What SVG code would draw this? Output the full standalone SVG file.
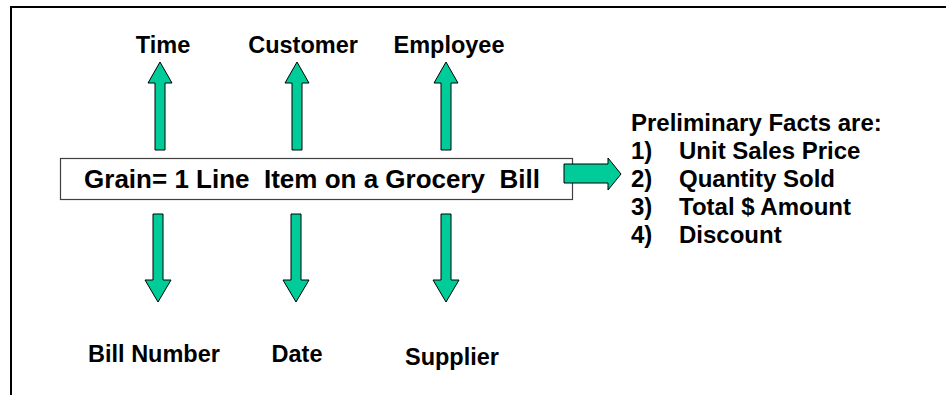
<svg xmlns="http://www.w3.org/2000/svg" width="947" height="395" viewBox="0 0 947 395">
<style>
.lbl{font-family:"Liberation Sans",Arial,sans-serif;font-weight:bold;font-size:23.5px;fill:#000}
.fact{font-family:"Liberation Sans",Arial,sans-serif;font-weight:bold;font-size:24px;fill:#000}
.arr{fill:#00CC99;stroke:#000;stroke-width:1}
</style>
<rect width="947" height="395" fill="#fff"/>
<g id="frame">
<line x1="10" y1="7" x2="946" y2="7" stroke="#000" stroke-width="2"/>
<line x1="11" y1="6" x2="11" y2="395" stroke="#000" stroke-width="2"/>
</g>
<g id="grain">
<rect x="60.5" y="158.5" width="512" height="41" fill="#fff" stroke="#404040" stroke-width="1.2"/>
<text x="312" y="188" text-anchor="middle" class="lbl" style="font-size:26px;white-space:pre" xml:space="preserve">Grain= 1 Line  Item on a Grocery  Bill</text>
</g>
<g id="connectors">
<path class="arr" d="M155,150 V83 H148 L160,62 L172,83 H165 V150 Z"/>
<path class="arr" d="M292,150 V83 H285 L297,62 L309,83 H302 V150 Z"/>
<path class="arr" d="M441,150 V83 H434 L446,62 L458,83 H451 V150 Z"/>
<path class="arr" d="M153,214 V280 H145 L158,302 L171,280 H163 V214 Z"/>
<path class="arr" d="M291,214 V280 H283 L296,302 L309,280 H301 V214 Z"/>
<path class="arr" d="M441,214 V280 H433 L446,302 L459,280 H451 V214 Z"/>
<path class="arr" d="M564,164 H608 V158 L621,174 L608,190 V183 H564 Z"/>
</g>
<g id="time"><text x="163" y="53" text-anchor="middle" class="lbl">Time</text></g>
<g id="customer"><text x="303" y="53" text-anchor="middle" class="lbl">Customer</text></g>
<g id="employee"><text x="449" y="53" text-anchor="middle" class="lbl">Employee</text></g>
<g id="billnumber"><text x="154" y="362" text-anchor="middle" class="lbl">Bill Number</text></g>
<g id="date"><text x="297" y="362" text-anchor="middle" class="lbl">Date</text></g>
<g id="supplier"><text x="452" y="365" text-anchor="middle" class="lbl">Supplier</text></g>
<g id="facts">
<text x="631" y="131" class="fact">Preliminary Facts are:</text>
<text x="631" y="159" class="fact">1)</text><text x="679" y="159" class="fact">Unit Sales Price</text>
<text x="631" y="187" class="fact">2)</text><text x="679" y="187" class="fact">Quantity Sold</text>
<text x="631" y="215" class="fact">3)</text><text x="679" y="215" class="fact">Total $ Amount</text>
<text x="631" y="243" class="fact">4)</text><text x="679" y="243" class="fact">Discount</text>
</g>
</svg>
